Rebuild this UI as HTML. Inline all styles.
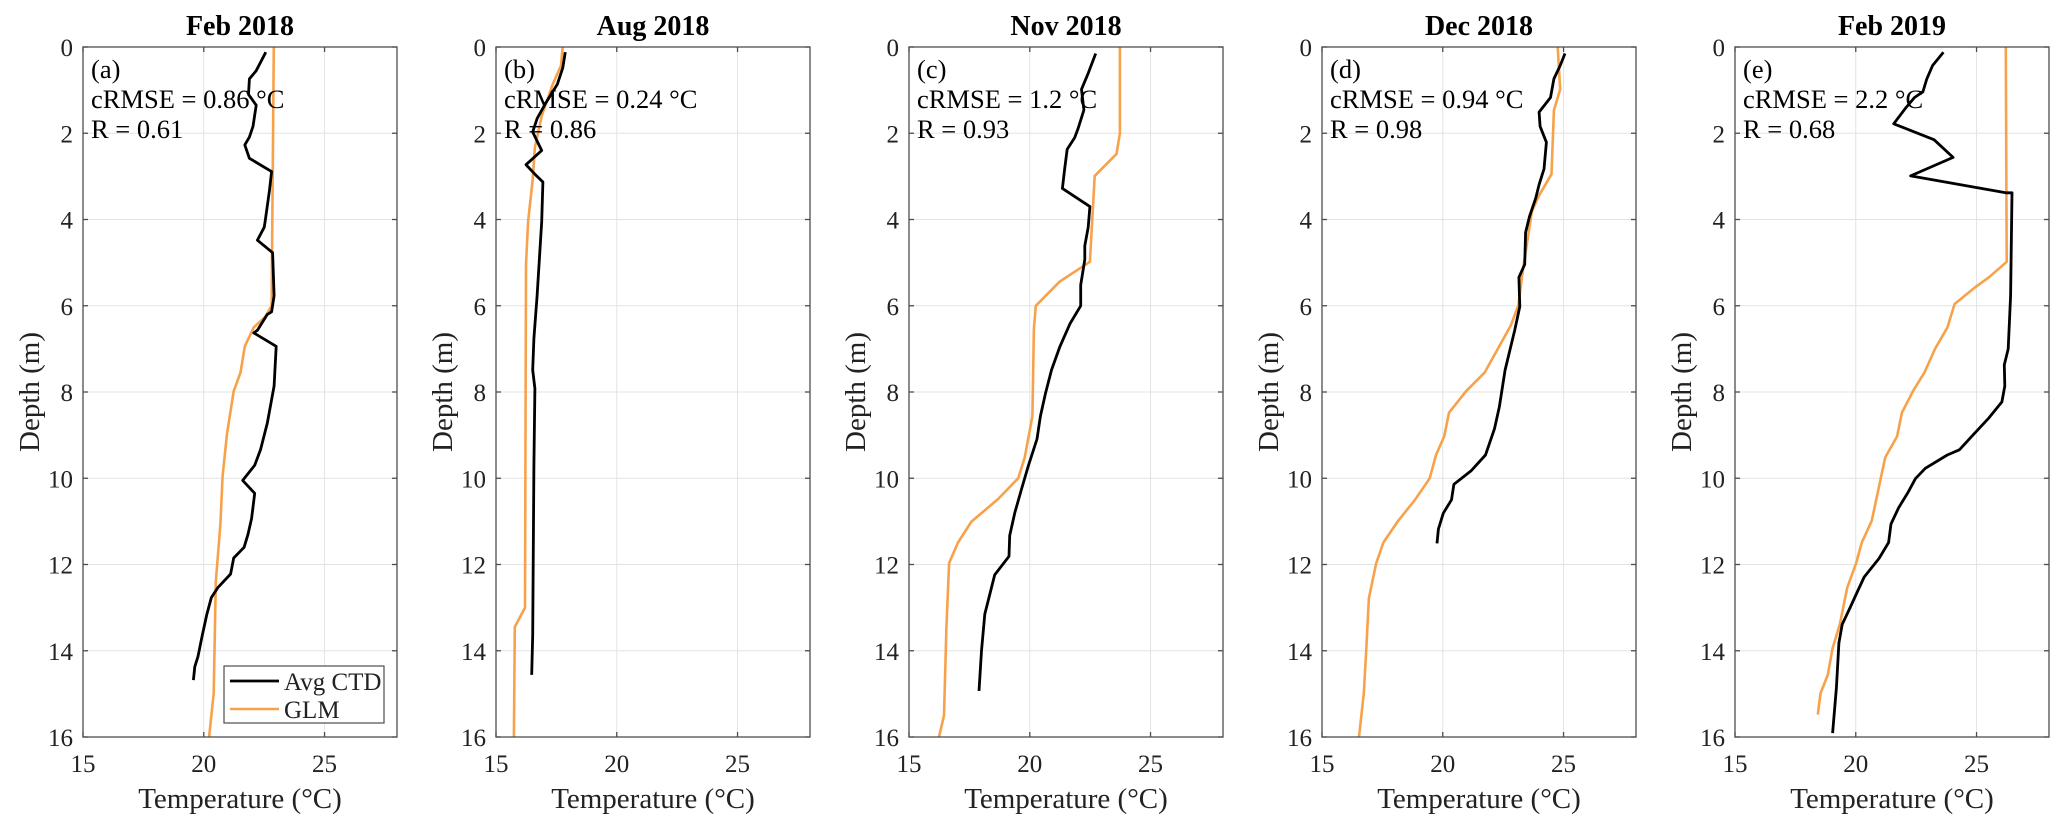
<!DOCTYPE html>
<html><head><meta charset="utf-8"><style>
html,body{margin:0;padding:0;background:#fff;}
svg{display:block;font-family:"Liberation Serif",serif;}
</style></head><body>
<svg id="chart" width="2067" height="829" viewBox="0 0 2067 829"></svg>
<script>
const panelTitles = ["Feb 2018","Aug 2018","Nov 2018","Dec 2018","Feb 2019"];
const panelLetters = ["(a)","(b)","(c)","(d)","(e)"];
const cRMSE = ["0.86","0.24","1.2","0.94","2.2"];
const Rvals = ["0.61","0.86","0.93","0.98","0.68"];
const xTicks = [15,20,25];
const yTicks = [0,2,4,6,8,10,12,14,16];
// CTD series: temperature and depth arrays
const ctdT_a = [22.57,22.17,21.89,21.85,22.17,22.04,21.89,21.70,21.89,22.81,22.72,22.54,22.5,22.22,22.85,22.91,22.81,22.63,22.22,22.07,23.0,22.91,22.63,22.35,22.11,21.61,22.11,21.98,21.83,21.67,21.24,21.11,20.59,20.31,20.13,19.94,19.76,19.63,19.57];
const ctdD_a = [0.12,0.55,0.74,1.1,1.35,1.84,2.09,2.27,2.58,2.89,3.32,4.05,4.18,4.48,4.77,5.77,6.14,6.2,6.57,6.63,6.94,7.86,8.72,9.34,9.7,10.05,10.35,10.93,11.3,11.6,11.85,12.22,12.53,12.77,13.15,13.64,14.13,14.37,14.68];
const glmT_a = [22.9,22.81,22.54,22.07,21.7,21.52,21.24,20.96,20.78,20.69,20.5,20.41,20.22];
const glmD_a = [0,6.0,6.26,6.5,6.94,7.55,7.98,8.97,9.95,11.06,12.4,14.99,16];
const ctdT_b = [17.87,17.76,17.54,17.07,16.7,16.52,16.89,16.24,16.61,16.94,16.89,16.7,16.57,16.52,16.61,16.57,16.52,16.48];
const ctdD_b = [0.12,0.49,0.86,1.29,1.66,1.97,2.4,2.73,2.95,3.13,4.05,5.77,6.76,7.49,7.92,9.7,13.64,14.56];
const glmT_b = [17.76,17.69,17.35,16.89,16.61,16.52,16.33,16.24,16.2,15.78,15.74];
const glmD_b = [0,0.43,0.86,1.6,2.33,3.07,4.05,5.04,13.0,13.45,16];
const ctdT_c = [22.73,22.42,22.14,22.24,22.0,21.86,21.55,21.45,21.35,22.49,22.42,22.28,22.28,22.11,22.11,21.66,21.24,20.9,20.65,20.44,20.3,19.93,19.65,19.38,19.17,19.14,18.55,18.14,18.0,17.9];
const ctdD_c = [0.15,0.61,0.98,1.46,1.89,2.1,2.37,2.8,3.28,3.7,4.18,4.61,4.93,5.52,6.0,6.42,6.96,7.49,8.03,8.56,9.09,9.73,10.27,10.8,11.33,11.81,12.24,13.15,14.0,14.93];
const glmT_c = [23.73,23.73,23.59,22.69,22.49,21.24,20.25,20.17,20.11,19.79,19.52,18.69,17.58,17.03,16.66,16.55,16.45,16.24];
const glmD_c = [0,2.0,2.48,2.99,4.98,5.44,6.0,6.53,8.56,9.52,10.0,10.48,11.01,11.49,11.97,13.47,15.5,16];
const ctdT_d = [25.06,24.86,24.6,24.46,23.99,24.03,24.29,24.19,23.99,23.85,23.59,23.43,23.39,23.15,23.19,22.98,22.58,22.34,22.14,21.77,21.17,20.46,20.36,20.02,19.82,19.76];
const ctdD_d = [0.15,0.43,0.74,1.17,1.51,1.84,2.21,2.83,3.19,3.5,3.93,4.3,5.04,5.34,6.02,6.57,7.49,8.35,8.85,9.46,9.83,10.14,10.5,10.81,11.18,11.51];
const glmT_d = [24.76,24.86,24.6,24.5,23.99,23.69,23.29,23.13,22.82,22.28,21.73,20.97,20.26,20.06,19.72,19.46,18.85,18.15,17.54,17.24,16.94,16.83,16.73,16.53];
const glmD_d = [0,0.98,1.47,2.95,3.44,3.81,5.28,5.99,6.45,7.0,7.55,7.98,8.48,9.03,9.46,10.0,10.5,10.99,11.49,11.98,12.78,14.0,14.99,16];
const ctdT_e = [23.63,23.18,22.94,22.78,22.43,22.07,21.57,23.24,24.03,22.27,26.21,26.47,26.41,26.31,26.15,26.17,26.05,25.51,24.9,24.29,23.79,22.88,22.47,22.17,21.77,21.46,21.36,20.96,20.35,20.05,19.75,19.44,19.3,19.2,19.04];
const ctdD_e = [0.12,0.43,0.74,1.04,1.17,1.41,1.78,2.15,2.56,2.99,3.38,3.38,5.77,7.0,7.37,7.86,8.23,8.6,8.97,9.34,9.46,9.77,10.01,10.32,10.69,11.06,11.49,11.86,12.29,12.65,13.02,13.39,13.82,14.86,15.91];
const glmT_e = [26.21,26.25,25.51,24.9,24.09,23.79,23.28,22.84,22.37,21.91,21.71,21.22,20.66,20.25,20.01,19.65,19.34,19.04,18.84,18.54,18.43];
const glmD_e = [0,4.98,5.34,5.59,5.96,6.51,7.0,7.55,7.98,8.48,9.03,9.52,10.99,11.49,11.98,12.53,13.39,13.94,14.56,14.99,15.48];

const ctdT=[ctdT_a,ctdT_b,ctdT_c,ctdT_d,ctdT_e], ctdD=[ctdD_a,ctdD_b,ctdD_c,ctdD_d,ctdD_e];
const glmT=[glmT_a,glmT_b,glmT_c,glmT_d,glmT_e], glmD=[glmD_a,glmD_b,glmD_c,glmD_d,glmD_e];

const NS="http://www.w3.org/2000/svg";
const svg=document.getElementById('chart');
function mk(tag,attrs,parent){const e=document.createElementNS(NS,tag);for(const k in attrs)e.setAttribute(k,attrs[k]);(parent||svg).appendChild(e);return e;}
const PW=314, PH=690, TOP=47, XMIN=15, XMAX=28, YMAX=16;
const lefts=[83,496,909,1322,1735];
lefts.forEach((L,i)=>{
  const g=mk('g',{});
  
  
  const xs=t=>L+(t-XMIN)/(XMAX-XMIN)*PW;
  const ys=d=>TOP+d/YMAX*PH;
  xTicks.forEach(t=>{if(t>XMIN){const l=mk('line',{x1:xs(t),x2:xs(t),y1:TOP,y2:TOP+PH,stroke:'#e3e3e3','stroke-width':1},g);
    }});
  yTicks.forEach(d=>{if(d>0&&d<YMAX){const l=mk('line',{x1:L,x2:L+PW,y1:ys(d),y2:ys(d),stroke:'#e3e3e3','stroke-width':1},g);
    }});
  const pts=(T,D)=>T.map((t,k)=>xs(t).toFixed(1)+','+ys(D[k]).toFixed(1)).join(' ');
  const gl=mk('polyline',{points:pts(glmT[i],glmD[i]),fill:'none',stroke:'#f7a24b','stroke-width':2.6,'stroke-linejoin':'round'},g);
  
  const ct=mk('polyline',{points:pts(ctdT[i],ctdD[i]),fill:'none',stroke:'#000','stroke-width':2.8,'stroke-linejoin':'round'},g);
  
  const bx=mk('rect',{x:L,y:TOP,width:PW,height:PH,fill:'none',stroke:'#4d4d4d','stroke-width':1.3},g);
  
  xTicks.forEach(t=>{
    mk('line',{x1:xs(t),x2:xs(t),y1:TOP+PH,y2:TOP+PH-5,stroke:'#4d4d4d','stroke-width':1.3},g);
    mk('line',{x1:xs(t),x2:xs(t),y1:TOP,y2:TOP+5,stroke:'#4d4d4d','stroke-width':1.3},g);
    const tx=mk('text',{x:xs(t),y:TOP+PH+35,'text-anchor':'middle','font-size':25,fill:'#222'},g);tx.textContent=t;
    
  });
  yTicks.forEach(d=>{
    mk('line',{x1:L,x2:L+5,y1:ys(d),y2:ys(d),stroke:'#4d4d4d','stroke-width':1.3},g);
    mk('line',{x1:L+PW,x2:L+PW-5,y1:ys(d),y2:ys(d),stroke:'#4d4d4d','stroke-width':1.3},g);
    const tx=mk('text',{x:L-10,y:ys(d)+9,'text-anchor':'end','font-size':25,fill:'#222'},g);tx.textContent=d;
    
  });
  const ti=mk('text',{x:L+PW/2,y:35,'text-anchor':'middle','font-size':28,'font-weight':'bold',fill:'#000'},g);ti.textContent=panelTitles[i];
  
  const xl=mk('text',{x:L+PW/2,y:808,'text-anchor':'middle','font-size':29,fill:'#222'},g);xl.textContent='Temperature (°C)';
  
  const yl=mk('text',{x:0,y:0,'text-anchor':'middle','font-size':29,fill:'#222',transform:`translate(${L-44},${TOP+PH/2}) rotate(-90)`},g);yl.textContent='Depth (m)';
  
  const lines=[panelLetters[i],'cRMSE = '+cRMSE[i]+' °C','R = '+Rvals[i]];
  lines.forEach((s,k)=>{const a=mk('text',{x:L+8,y:TOP+31+k*30,'font-size':26.5,fill:'#000'},g);a.textContent=s;
    });
});
const lg=mk('g',{});


mk('rect',{x:224,y:666,width:160,height:57,fill:'#fff',stroke:'#4d4d4d','stroke-width':1.2},lg);
mk('line',{x1:230,x2:279,y1:681,y2:681,stroke:'#000','stroke-width':2.8},lg);
mk('line',{x1:230,x2:279,y1:709,y2:709,stroke:'#f7a24b','stroke-width':2.6},lg);
const l1=mk('text',{x:284,y:690,'font-size':25,fill:'#222'},lg);l1.textContent='Avg CTD';


const l2=mk('text',{x:284,y:718,'font-size':25,fill:'#222'},lg);l2.textContent='GLM';


</script>
</body></html>
